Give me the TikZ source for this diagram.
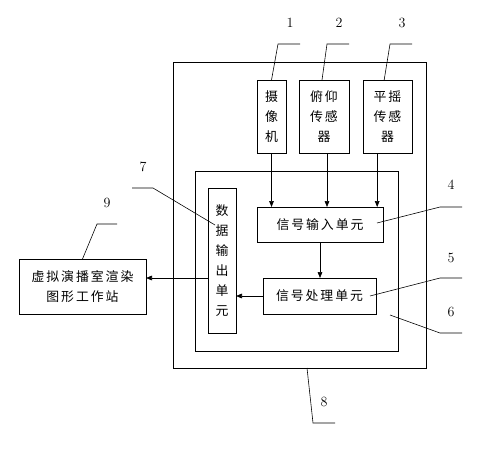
\documentclass[tikz,border=0pt]{standalone}
\usepackage{fontspec}
\newfontfamily\cjk[LetterSpace=15]{Noto Sans CJK SC}
\usetikzlibrary{arrows.meta}
\tikzset{
  box/.style={draw,line width=.6pt,inner sep=0pt,outer sep=0pt,align=center,
              font=\cjk\fontsize{11}{17}\selectfont},
  frm/.style={draw,line width=.6pt,inner sep=0pt,outer sep=0pt},
  ar/.style ={-{Triangle[length=1.8mm,width=1.4mm]},line width=.6pt},
  ld/.style ={line width=.5pt},
  num/.style={font=\fontsize{12}{14}\selectfont},
}

\begin{document}
\begin{tikzpicture}[x=0.03cm,y=-0.03cm]
  \useasboundingbox (0,0) rectangle (484,450);
  % frames
  \node[frm,minimum width=7.59cm,minimum height=9.18cm] (dev) at (299.5,215) {};
  \node[frm,minimum width=6.09cm,minimum height=5.4cm]  (unit) at (296.5,261) {};
  % sensors
  \node[box,minimum width=.87cm,minimum height=2.19cm] (cam)   at (271.5,116.5) {摄\\像\\机};
  \node[box,minimum width=1.5cm,minimum height=2.19cm] (pitch) at (324,116.5) {俯仰\\传感\\器};
  \node[box,minimum width=1.47cm,minimum height=2.19cm] (pan)  at (387.5,116.5) {平摇\\传感\\器};
  % units
  \node[box,minimum width=3.78cm,minimum height=1.05cm] (in)   at (320,224.5) {信号输入单元};
  \node[box,minimum width=3.39cm,minimum height=1.08cm] (proc) at (319.5,296) {信号处理单元};
  \node[box,minimum width=.84cm,minimum height=4.35cm]  (out)  at (222,260.5) {数\\据\\输\\出\\单\\元};
  \node[box,minimum width=3.81cm,minimum height=1.65cm] (ws)   at (82.5,286.5) {虚拟演播室渲染\\图形工作站};
  % signal flow
  \draw[ar] (cam.south) -- (cam.south |- in.north);
  \draw[ar] ([xshift=.09cm]pitch.south) -- ([xshift=.09cm]pitch.south |- in.north);
  \draw[ar] ([xshift=-.31cm]pan.south) -- ([xshift=-.31cm]pan.south |- in.north);
  \draw[ar] (in.south) -- (in.south |- proc.north);
  \draw[ar] (proc.west) -- (proc.west -| out.east);
  \draw[ar] ([yshift=.255cm]out.west |- ws.east) -- ([yshift=.255cm]ws.east);
  % reference numerals
  \node[num] (n1) at (290,23)  {1};
  \node[num] (n2) at (339,23)  {2};
  \node[num] (n3) at (402,23)  {3};
  \node[num] (n4) at (451,185) {4};
  \node[num] (n5) at (451,258) {5};
  \node[num] (n6) at (451,312) {6};
  \node[num] (n7) at (143,167) {7};
  \node[num] (n8) at (324,402) {8};
  \node[num] (n9) at (107,203) {9};
  \coordinate (p4) at (377,223);
  \coordinate (p5) at (370,296);
  \coordinate (p6) at (390,315);
  \coordinate (p7) at (215,225);
  \draw[ld] (cam.north) -- (278,44) -- ++(22,0);
  \draw[ld] ([xshift=-.06cm]pitch.north) -- (327,44) -- ++(22,0);
  \draw[ld] ([xshift=-.1cm]pan.north) -- (390,44) -- ++(22,0);
  \draw[ld] (p4) -- (440,207) -- ++(22,0);
  \draw[ld] (p5) -- (440,278) -- ++(22,0);
  \draw[ld] (p6) -- (440,333) -- ++(22,0);
  \draw[ld] (p7) -- (153,188) -- ++(-21,0);
  \draw[ld] ([xshift=.225cm]dev.south) -- (313,423) -- ++(22,0);
  \draw[ld] (ws.north) -- (97,224) -- ++(20,0);
\end{tikzpicture}
\end{document}
